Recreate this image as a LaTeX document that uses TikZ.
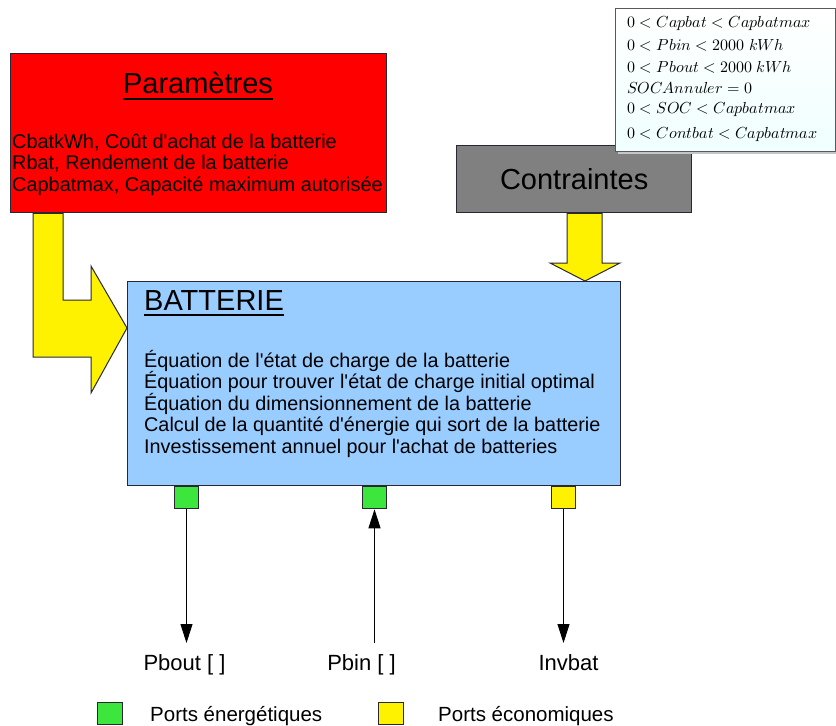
\documentclass[tikz,border=0pt]{standalone}
\usepackage{fontspec}
\usepackage{unicode-math}
\setmainfont{Liberation Sans}
\usetikzlibrary{arrows.meta,backgrounds}
\definecolor{bleubat}{RGB}{153,204,255}
\definecolor{vertport}{RGB}{60,230,60}
\definecolor{grisbloc}{RGB}{128,128,128}
\definecolor{bord}{RGB}{40,40,50}
\newcommand{\apos}{\textquotesingle}
\begin{document}
\begin{tikzpicture}[x=1pt,y=-1pt,
    bloc/.style = {draw=bord, line width=1.3pt, inner sep=0pt, anchor=north west},
    titre/.style = {font=\fontsize{29}{32}\selectfont, inner sep=0pt},
    ligne/.style = {font=\fontsize{19.8}{21.5}\selectfont, inner sep=0pt, anchor=base west},
    port/.style = {draw=bord, line width=1pt, minimum width=24pt, minimum height=22pt, inner sep=0pt},
    fleche/.style = {draw=bord, line width=1pt, fill=yellow},
    arrow/.style = {line width=0.9pt, -{Triangle[length=19pt,width=12pt]}}]
    \useasboundingbox (0,0) rectangle (836,726);

    % blocs
    \node[bloc, fill=red, minimum width=376pt, minimum height=159pt] (param) at (10,53) {};
    \node[bloc, fill=grisbloc, minimum width=235pt, minimum height=67pt] (contr) at (456,145) {};
    \node[bloc, fill=bleubat, minimum width=493pt, minimum height=204pt] (bat) at (127,281) {};

    \node[titre, anchor=base] (paramt) at (198,93) {Paramètres};
    \draw[line width=1.3pt] ([yshift=-6pt]paramt.base west) -- ([yshift=-6pt]paramt.base east);
    \foreach \txt [count=\i] in {{CbatkWh, Coût d\apos achat de la batterie},
        {Rbat, Rendement de la batterie},{Capbatmax, Capacité maximum autorisée}}
        \node[ligne, font=\fontsize{19.9}{21.5}\selectfont] (par\i) at (12,126.5+21.5*\i) {\txt};

    \node[titre] (contrt) at (contr.center) {Contraintes};

    \node[titre, anchor=base west] (batt) at (144,310) {BATTERIE};
    \draw[line width=1.3pt] ([yshift=-5pt]batt.base west) -- ([yshift=-5pt]batt.base east);
    \foreach \txt [count=\i] in {{Équation de l\apos état de charge de la batterie},
        {Équation pour trouver l\apos état de charge initial optimal},
        {Équation du dimensionnement de la batterie},
        {Calcul de la quantité d\apos énergie qui sort de la batterie},
        {Investissement annuel pour l\apos achat de batteries}}
        \node[ligne] (eq\i) at (144,345.5+21.5*\i) {\txt};

    % contraintes
    \fill[gray!45] (618,11) rectangle (838,154);
    \node[bloc, draw=gray!70!black, line width=0.8pt, top color=white, bottom color=cyan!6,
        minimum width=220pt, minimum height=143pt] (cbox) at (615,8) {};
    \foreach \txt/\yy [count=\i] in {{$0<Capbat<Capbatmax$}/27,{$0<Pbin<2000\ kWh$}/50,
        {$0<Pbout<2000\ kWh$}/72,{$SOCAnnuler=0$}/93,{$0<SOC<Capbatmax$}/113,
        {$0<Contbat<Capbatmax$}/138}
        \node[inner sep=0pt, anchor=base west, font=\fontsize{16}{18}\selectfont] (c\i) at (627,\yy) {\txt};

    % fleches jaunes
    \begin{scope}[on background layer]
        \draw[fleche] (33,0 |- param.south) -- (63,0 |- param.south) -- (63,300) -- (91,300)
            -- (91,266) -- (bat.west |- 0,328) -- (91,393) -- (91,357) -- (33,357) -- cycle;
        \draw[fleche] (567,0 |- contr.south) -- (602,0 |- contr.south) -- (602,263) -- (620,263)
            -- (585,0 |- bat.north) -- (550,263) -- (567,263) -- cycle;
    \end{scope}

    % ports
    \node[port, fill=vertport, anchor=north] (pbout) at (186.5,0 |- bat.south) {};
    \node[port, fill=vertport, anchor=north] (pbin) at (374.5,0 |- bat.south) {};
    \node[port, fill=yellow, anchor=north] (pinv) at (563.5,0 |- bat.south) {};

    \coordinate (bout) at (pbout.south |- 0,643);
    \coordinate (bin) at (pbin.south |- 0,643);
    \coordinate (binv) at (pinv.south |- 0,643);
    \draw[arrow] (pbout.south) -- (bout);
    \draw[arrow] (bin) -- (pbin.south);
    \draw[arrow] (pinv.south) -- (binv);

    \node[anchor=base, inner sep=0pt, font=\fontsize{22}{24}\selectfont] (lbout) at (184.5,670) {Pbout [ ]};
    \node[anchor=base, inner sep=0pt, font=\fontsize{22}{24}\selectfont] (lbin) at (361.5,670) {Pbin [ ]};
    \node[anchor=base, inner sep=0pt, font=\fontsize{22}{24}\selectfont] (linv) at (568.5,670) {Invbat};

    % legende
    \node[port, fill=vertport, minimum width=25pt, anchor=north west] (legv) at (97,702) {};
    \node[anchor=base west, inner sep=0pt, font=\fontsize{20.5}{22}\selectfont] (legvt) at (150,721) {Ports énergétiques};
    \node[port, fill=yellow, minimum width=25pt, anchor=north west] (legj) at (378,702) {};
    \node[anchor=base west, inner sep=0pt, font=\fontsize{20.5}{22}\selectfont] (legjt) at (438,721) {Ports économiques};
\end{tikzpicture}
\end{document}
